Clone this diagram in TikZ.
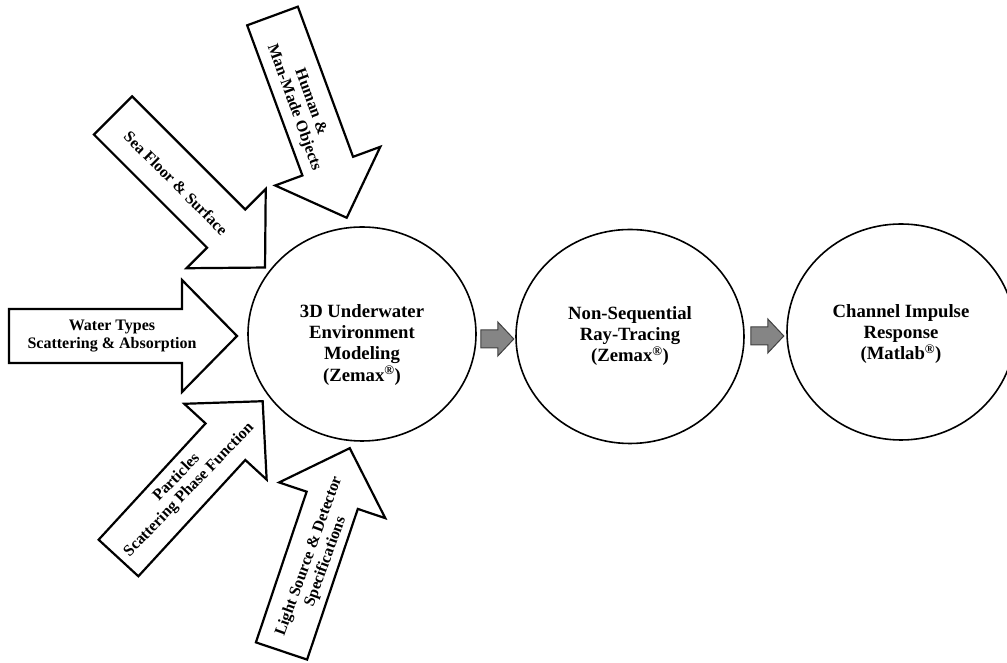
\documentclass[tikz,border=0pt]{standalone}
\usepackage{fontspec}
\setmainfont{Liberation Serif}
\usetikzlibrary{shapes.geometric}
\tikzset{
  inarrow/.pic={\draw[line width=2.2pt, line join=miter, fill=white]
     (0,-27) -- (#1-55,-27) -- (#1-55,-56) -- (#1,0) -- (#1-55,56) -- (#1-55,27) -- (0,27) -- cycle;},
  grayarrow/.pic={\draw[line width=1pt, draw=black!75, fill=black!48, line join=miter]
     (0,-9) -- (17,-9) -- (17,-17) -- (33,0) -- (17,17) -- (17,9) -- (0,9) -- cycle;},
  ell/.style={ellipse, draw, line width=1.6pt, minimum width=228pt, minimum height=214pt, inner sep=0pt},
  arrtext/.style={font=\bfseries\fontsize{16}{17.5}\selectfont, align=center, inner sep=0pt},
  etext/.style={font=\bfseries\fontsize{18.7}{21.3}\selectfont, align=center, inner sep=0pt, anchor=north},
}
\begin{document}
\begin{tikzpicture}[x=1pt,y=1pt]
\useasboundingbox (0,0) rectangle (1007,663);
\clip (0,0) rectangle (1007,663);
% input arrows
\pic at (9,327) {inarrow=228};
\pic[rotate=-45] at (113,547.5) {inarrow=215};
\pic[rotate=-69.8] at (272.5,647) {inarrow=215};
\pic[rotate=47.4] at (118.5,105) {inarrow=213};
\pic[rotate=71.4] at (281.5,12) {inarrow=214};
\node[arrtext] (water) at (112,327) {Water Types\\Scattering \& Absorption};
\node[arrtext, rotate=-45] (sea) at (176,480) {Sea Floor \& Surface};
\node[arrtext, rotate=-70] (human) at (302,558) {Human \&\\Man-Made Objects};
\node[arrtext, rotate=46] (part) at (183,179) {Particles\\Scattering Phase Function};
\node[arrtext, rotate=70] (light) at (317.5,104) {Light Source \& Detector\\Specifications};
% process ellipses
\node[ell] (env) at (362,329) {};
\node[ell] (ray) at (630,326.5) {};
\node[ell, minimum height=216pt] (cir) at (901,331) {};
\node[etext] (envt) at (362,359) {3D Underwater\\Environment\\Modeling\\(Zemax\textsuperscript{®})};
\node[etext] (rayt) at (630,357) {Non-Sequential\\Ray-Tracing\\(Zemax\textsuperscript{®})};
\node[etext] (cirt) at (901,359) {Channel Impulse\\Response\\(Matlab\textsuperscript{®})};
% flow arrows
\pic at ([shift={(4,-5)}]env.east) {grayarrow};
\pic at ([shift={(6,0.5)}]ray.east) {grayarrow};
\end{tikzpicture}
\end{document}
